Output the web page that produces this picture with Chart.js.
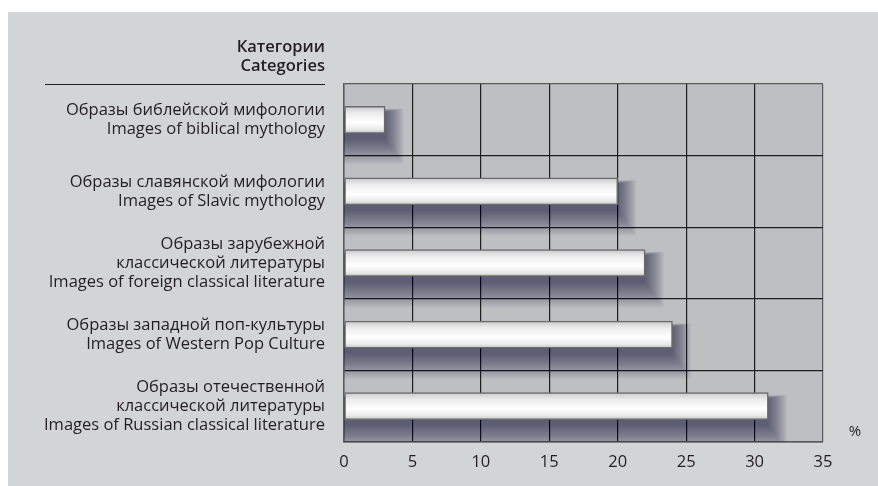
<!DOCTYPE html>
<html>
<head>
<meta charset="utf-8">
<script src="https://cdn.jsdelivr.net/npm/chart.js@4/dist/chart.umd.min.js"></script>
<style>
  html, body { margin: 0; padding: 0; background: #fff; }
  canvas { display: block; }
</style>
</head>
<body>
<canvas id="chart" width="878" height="486"></canvas>
<script>
// categories (two languages stacked) and shares in %
const categories = [
    ['Образы библейской мифологии', 'Images of biblical mythology'],
    ['Образы славянской мифологии', 'Images of Slavic mythology'],
    ['Образы зарубежной', 'классической литературы', 'Images of foreign classical literature'],
    ['Образы западной поп-культуры', 'Images of Western Pop Culture'],
    ['Образы отечественной', 'классической литературы', 'Images of Russian classical literature']
];
const shares = [3, 20, 22, 24, 31];
const xTicks = [0, 5, 10, 15, 20, 25, 30, 35];
const headerLines = ['Категории', 'Categories'];
const unitLabel = '%';

const FONT = '"Open Sans", "Noto Sans", sans-serif';
const TEXT = '#231f20';
const BAR_THICK = 27;

const panelPlugin = {
    id: 'panel',
    beforeDraw(chart) {
        const { ctx, chartArea: a, width, height } = chart;
        ctx.save();
        ctx.fillStyle = '#ffffff';
        ctx.fillRect(0, 0, width, height);
        ctx.fillStyle = '#d3d4d6';
        ctx.fillRect(8, 12, width - 8, height - 12);
        ctx.fillStyle = '#bebfc3';
        ctx.fillRect(a.left, a.top, a.right - a.left, a.bottom - a.top);
        ctx.restore();
    },
    afterDraw(chart) {
        const { ctx, chartArea: a } = chart;
        ctx.save();
        ctx.fillStyle = TEXT;
        ctx.font = '600 16.5px ' + FONT;
        ctx.textAlign = 'right';
        ctx.textBaseline = 'middle';
        ctx.fillText(headerLines[0], a.left - 19, 47);
        ctx.fillText(headerLines[1], a.left - 19, 66);
        ctx.strokeStyle = '#231f20';
        ctx.lineWidth = 1;
        ctx.beginPath();
        ctx.moveTo(45, 84.5);
        ctx.lineTo(a.left - 19, 84.5);
        ctx.stroke();
        ctx.font = '15px ' + FONT;
        ctx.textAlign = 'center';
        ctx.fillText(unitLabel, a.right + 32, a.bottom - 10);
        ctx.restore();
    }
};

// soft drop shadow under the bars, built from stacked translucent rects
const shadowPlugin = {
    id: 'barShadow',
    beforeDatasetsDraw(chart) {
        const ctx = chart.ctx;
        const a = chart.chartArea;
        const xs = chart.scales.x;
        const ys = chart.scales.y;
        const h = BAR_THICK;
        ctx.save();
        ctx.beginPath();
        ctx.rect(a.left, a.top, a.right - a.left, a.bottom - a.top);
        ctx.clip();
        ctx.fillStyle = 'rgba(20, 20, 25, 0.022)';
        shares.forEach((v, idx) => {
            const x0 = xs.getPixelForValue(0);
            const w = xs.getPixelForValue(v) - x0;
            const top = ys.getPixelForValue(idx) - h / 2 + 6;
            for (let i = 0; i < 26; i++) {
                ctx.fillRect(x0 - i * 0.75, top - i * 0.15, w + i * 1.5, h + i * 1.15);
            }
        });
        ctx.restore();
    }
};

function barGradient(c) {
    const chart = c.chart;
    const a = chart.chartArea;
    if (!a) return '#ffffff';
    const y = chart.scales.y.getPixelForValue(c.dataIndex);
    const h = BAR_THICK;
    const g = chart.ctx.createLinearGradient(0, y - h / 2, 0, y + h / 2);
    g.addColorStop(0, '#c8c8c8');
    g.addColorStop(0.25, '#ececec');
    g.addColorStop(0.6, '#ffffff');
    g.addColorStop(0.85, '#eaeaea');
    g.addColorStop(1, '#c2c2c2');
    return g;
}

new Chart(document.getElementById('chart').getContext('2d'), {
    type: 'bar',
    data: {
        labels: categories,
        datasets: [{
            data: shares,
            backgroundColor: barGradient,
            borderColor: '#6b6b6b',
            borderWidth: 1.5,
            borderSkipped: false,
            barThickness: BAR_THICK
        }]
    },
    options: {
        indexAxis: 'y',
        responsive: false,
        animation: false,
        layout: { padding: { top: 84, right: 55, left: 0, bottom: 0 } },
        plugins: { legend: { display: false }, tooltip: { enabled: false } },
        scales: {
            x: {
                min: xTicks[0],
                max: xTicks[xTicks.length - 1],
                afterBuildTicks: scale => { scale.ticks = xTicks.map(v => ({ value: v })); },
                afterFit: scale => { scale.height = 44; },
                border: { color: '#5a5a5a', width: 1.5 },
                grid: {
                    drawTicks: false,
                    color: ctx => (ctx.index === 0 || ctx.index === xTicks.length - 1) ? '#5a5a5a' : '#1e1e1e',
                    lineWidth: 1.2
                },
                ticks: { color: TEXT, font: { family: FONT, size: 16.5 }, padding: 10 }
            },
            y: {
                afterFit: scale => { scale.width = 344; },
                border: { color: '#5a5a5a', width: 1.5 },
                grid: {
                    drawTicks: false,
                    offset: true,
                    color: ctx => (ctx.index === 0 || ctx.index === categories.length) ? '#5a5a5a' : '#1e1e1e',
                    lineWidth: 1.2
                },
                ticks: {
                    color: TEXT,
                    font: { family: FONT, size: 16.5, lineHeight: 1.15 },
                    padding: 19
                }
            }
        }
    },
    plugins: [panelPlugin, shadowPlugin]
});
</script>
</body>
</html>
